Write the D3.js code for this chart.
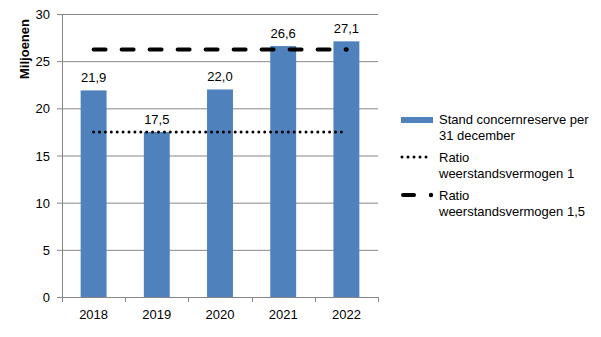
<!DOCTYPE html>
<html><head><meta charset="utf-8">
<script src="https://cdn.jsdelivr.net/npm/d3@7"></script>
<style>body{margin:0;background:#fff}text{font-family:"Liberation Sans",Arial,sans-serif}</style>
</head><body>
<svg id="c" width="601" height="337"></svg>
<script>
const years = ["2018","2019","2020","2021","2022"];
const reserve = [21.9, 17.5, 22.0, 26.6, 27.1];
const ratio1 = [17.5, 17.5, 17.5, 17.5, 17.5];
const ratio15 = [26.25, 26.25, 26.25, 26.25, 26.25];
const yTicks = [0,5,10,15,20,25,30];
const legendLabels = [["Stand concernreserve per","31 december"],["Ratio","weerstandsvermogen 1"],["Ratio","weerstandsvermogen 1,5"]];

const svg = d3.select("#c");
const L=62, R=378, T=14, B=297;
const x = d3.scaleBand().domain(years).range([L,R]).paddingInner(0.59).paddingOuter(0.295);
const xc = d3.scaleBand().domain(years).range([L,R]);
const y = d3.scaleLinear().domain([0,30]).range([B,T]);
const grid="#868686";

// gridlines
svg.append("g").selectAll("line").data(yTicks).join("line")
  .attr("x1",L-5).attr("x2",R).attr("y1",d=>y(d)+0.5).attr("y2",d=>y(d)+0.5)
  .attr("stroke",grid).attr("stroke-width",1);
// y axis line
svg.append("line").attr("x1",L+0.5).attr("x2",L+0.5).attr("y1",T).attr("y2",B+5).attr("stroke",grid);
// x ticks
const bounds = years.map(d=>xc(d)).concat([R]);
svg.append("g").selectAll("line").data(bounds).join("line")
  .attr("x1",d=>Math.round(d)+0.5).attr("x2",d=>Math.round(d)+0.5).attr("y1",B).attr("y2",B+5).attr("stroke",grid);
// y labels
svg.append("g").selectAll("text").data(yTicks).join("text")
  .attr("x",50).attr("y",d=>y(d)+5).attr("text-anchor","end").attr("font-size",13).attr("fill","#000").text(d=>d);
// x labels
svg.append("g").selectAll("text").data(years).join("text")
  .attr("x",d=>xc(d)+xc.bandwidth()/2).attr("y",319).attr("text-anchor","middle").attr("font-size",13).text(d=>d);
// axis title
svg.append("text").attr("transform","translate(29,49) rotate(-90)").attr("text-anchor","middle")
  .attr("font-size",13).attr("font-weight","bold").text("Miljoenen");

// bars
svg.append("g").selectAll("rect").data(reserve).join("rect")
  .attr("x",(d,i)=>x(years[i])).attr("width",x.bandwidth())
  .attr("y",d=>y(d)).attr("height",d=>B-y(d)).attr("fill","#4f81bd");
// value labels
svg.append("g").selectAll("text").data(reserve).join("text")
  .attr("x",(d,i)=>xc(years[i])+xc.bandwidth()/2).attr("y",d=>y(d)-8).attr("text-anchor","middle")
  .attr("font-size",13).text(d=>d.toFixed(1).replace(".",","));

const cx=(d,i)=>xc(years[i])+xc.bandwidth()/2;
const line=d3.line().x(cx).y(d=>y(d));
svg.append("path").datum(ratio1).attr("d",line).attr("fill","none").attr("stroke","#000")
  .attr("stroke-width",3).attr("stroke-linecap","round").attr("stroke-dasharray","0 5.9");
svg.append("path").datum(ratio15).attr("d",line).attr("fill","none").attr("stroke","#000")
  .attr("stroke-width",4).attr("stroke-linecap","round").attr("stroke-dasharray","12 16");
svg.append("circle").attr("cx",cx(0,4)).attr("cy",y(ratio15[4])).attr("r",2.2).attr("fill","#000");

// legend
const lg = svg.append("g").attr("font-size",13);
lg.append("rect").attr("x",401).attr("y",117).attr("width",32).attr("height",6).attr("fill","#4f81bd");
lg.append("line").attr("x1",402).attr("x2",432).attr("y1",157).attr("y2",157).attr("stroke","#000")
  .attr("stroke-width",3).attr("stroke-linecap","round").attr("stroke-dasharray","0 6");
lg.append("line").attr("x1",403).attr("x2",414).attr("y1",195).attr("y2",195).attr("stroke","#000")
  .attr("stroke-width",4).attr("stroke-linecap","round");
lg.append("circle").attr("cx",431).attr("cy",195).attr("r",2.2).attr("fill","#000");
const ys=[[124,140],[162,178],[200,216]];
legendLabels.forEach((ls,i)=>{
  ls.forEach((t,j)=>lg.append("text").attr("x",439).attr("y",ys[i][j]).text(t));
});
</script>
</body></html>
